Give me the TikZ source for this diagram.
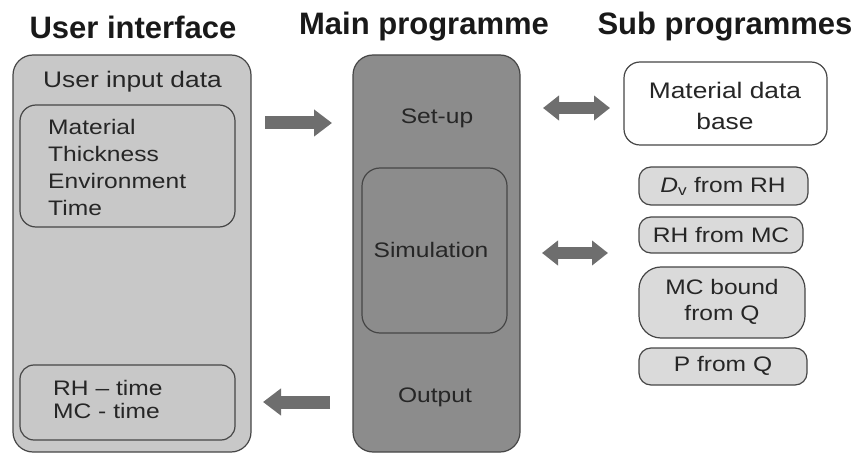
\documentclass[tikz,border=0pt]{standalone}
\usepackage{fontspec}
\setmainfont{Liberation Sans}
\usetikzlibrary{arrows.meta}
\definecolor{lightfill}{RGB}{200,200,200}
\definecolor{darkfill}{RGB}{140,140,140}
\definecolor{subfill}{RGB}{218,218,218}
\definecolor{edgecol}{RGB}{70,70,70}
\definecolor{arrowcol}{RGB}{110,110,110}
\tikzset{
  box/.style={draw=edgecol, line width=1.2pt},
  title/.style={font=\fontsize{31}{36}\selectfont\bfseries, text=black!90, inner sep=0pt},
  body/.style={font=\fontsize{21}{26}\selectfont, text=black!85, inner sep=0pt, xscale=1.17},
  fatarrow/.style={draw=arrowcol, line width=13pt, -{Triangle[length=18pt,width=26pt]}},
  fatdouble/.style={draw=arrowcol, line width=12pt, {Triangle[length=16pt,width=24pt]}-{Triangle[length=16pt,width=24pt]}}
}
\begin{document}
\begin{tikzpicture}[x=1pt,y=-1pt]
\useasboundingbox (0,0) rectangle (862,454);
% titles
\node[title] (t1) at (133,27) {User interface};
\node[title] (t2) at (424,27) {Main programme};
\node[title] (t3) at (725,27) {Sub programmes};
% left column
\draw[box, fill=lightfill, rounded corners=20pt] (13,55) rectangle (251,452);
\node[body, anchor=west, font=\fontsize{22.5}{26}\selectfont] (uid) at (43,82) {User input data};
\draw[box, fill=lightfill, rounded corners=16pt] (20,105) rectangle (235,227);
\node[body, anchor=north west, align=left, font=\fontsize{21}{27}\selectfont] (inp) at (48,119) {Material\\Thickness\\Environment\\Time};
\draw[box, fill=lightfill, rounded corners=14pt] (20,365) rectangle (235,440);
\node[body, anchor=north west, align=left, font=\fontsize{21}{23}\selectfont] (outp) at (53,380) {RH -- time\\MC - time};
% middle column
\draw[box, fill=darkfill, rounded corners=20pt] (353,55) rectangle (520,452);
\node[body] (setup) at (437,118) {Set-up};
\draw[box, fill=darkfill, rounded corners=18pt] (362,168) rectangle (507,333);
\node[body] (sim) at (431,250) {Simulation};
\node[body] (out) at (435,397) {Output};
% right column
\draw[box, fill=white, rounded corners=16pt] (624,62) rectangle (827,145);
\node[body, align=center, font=\fontsize{22.5}{31}\selectfont] (mdb) at (725,106) {Material data\\base};
\draw[box, fill=subfill, rounded corners=12pt] (639,167) rectangle (808,205);
\node[body] (dv) at (723,186) {\textit{D}\textsubscript{v} from RH};
\draw[box, fill=subfill, rounded corners=12pt] (639,217) rectangle (803,253);
\node[body] (rhmc) at (721,235) {RH from MC};
\draw[box, fill=subfill, rounded corners=22pt] (639,267) rectangle (805,338);
\node[body, align=center, font=\fontsize{21}{26}\selectfont] (mcb) at (722,302) {MC bound\\from Q};
\draw[box, fill=subfill, rounded corners=12pt] (639,348) rectangle (807,385);
\node[body] (pq) at (723,366) {P from Q};
% arrows
\coordinate (a1s) at (265,123); \coordinate (a1e) at (332,123);
\coordinate (a2s) at (543,108); \coordinate (a2e) at (610,108);
\coordinate (a3s) at (542,253); \coordinate (a3e) at (608,253);
\coordinate (a4s) at (330,402); \coordinate (a4e) at (263,402);
\draw[fatarrow] (a1s) -- (a1e);
\draw[fatdouble] (a2s) -- (a2e);
\draw[fatdouble] (a3s) -- (a3e);
\draw[fatarrow] (a4s) -- (a4e);
\end{tikzpicture}
\end{document}
